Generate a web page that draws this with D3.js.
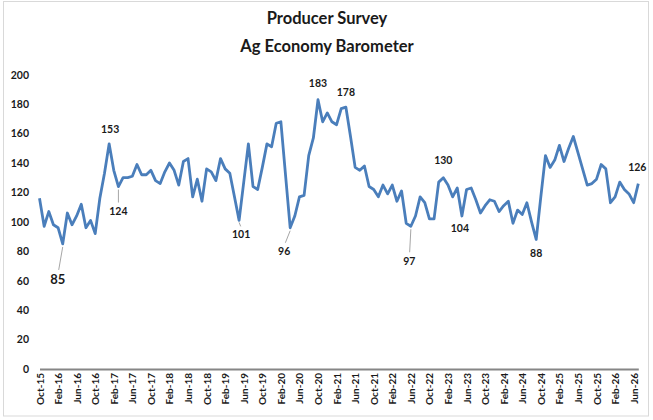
<!DOCTYPE html>
<html>
<head>
<meta charset="utf-8">
<script src="https://cdn.jsdelivr.net/npm/d3@7"></script>
<style>
  html, body { margin: 0; padding: 0; background: #fff; }
  svg text { font-family: "Lato", "Open Sans", sans-serif; font-weight: bold; fill: #1a1a1a; }
</style>
</head>
<body>
<svg id="chart" width="653" height="420"></svg>
<script>
"use strict";

/* monthly barometer readings, Oct-15 onwards */
const barometer = [
  116, 97, 107, 98, 96, 85, 106, 98, 104, 112, 96, 101, 92, 116, 133, 153, 135, 124, 130, 130,
  131, 139, 132, 132, 135, 128, 126, 134, 140, 135, 125, 141, 143, 117, 129, 114, 136, 134, 128, 143,
  136, 133, 117, 101, 127, 153, 124, 122, 137, 153, 151, 167, 168, 132, 96, 104, 117, 118, 145, 157,
  183, 168, 174, 168, 166, 177, 178, 158, 137, 135, 138, 124, 122, 117, 125, 119, 125, 114, 121, 99,
  97, 104, 117, 113, 102, 102, 127, 130, 125, 117, 123, 104, 122, 123, 115, 106, 111, 115, 114, 107,
  111, 114, 99, 108, 105, 113, 100, 88, 117, 145, 137, 142, 152, 141, 150, 158, 147, 136, 125, 126,
  129, 139, 136, 113, 117, 127, 122, 119, 113, 126
];

/* category labels, one every 4 months */
const tickLabels = [
  "Oct-15", "Feb-16", "Jun-16", "Oct-16", "Feb-17", "Jun-17", "Oct-17", "Feb-18", "Jun-18",
  "Oct-18", "Feb-19", "Jun-19", "Oct-19", "Feb-20", "Jun-20", "Oct-20", "Feb-21", "Jun-21",
  "Oct-21", "Feb-22", "Jun-22", "Oct-22", "Feb-23", "Jun-23", "Oct-23", "Feb-24", "Jun-24",
  "Oct-24", "Feb-25", "Jun-25", "Oct-25", "Feb-26", "Jun-26"
];

const yTicks = [0, 20, 40, 60, 80, 100, 120, 140, 160, 180, 200];

/* months that carry a value label */
const labelledMonths = [5, 15, 17, 43, 54, 60, 66, 80, 87, 91, 107, 129];

const titleLines = ["Producer Survey", "Ag Economy Barometer"];

const svg = d3.select("#chart");

const xScale = d3.scaleLinear().domain([0, barometer.length - 1]).range([39.5, 638.3]);
const yScale = d3.scaleLinear().domain([0, 200]).range([369, 74.7]);

/* placement of each value label: offset from the point, and whether it has a leader line */
const labelStyle = {
  5:   { dx: -5,   dy: 36, size: 13, leader: [3, 26] },
  15:  { dx: 1,    dy: -15 },
  17:  { dx: 0,    dy: 25, leader: [3, 16] },
  43:  { dx: 2,    dy: 14, leader: [2, 6] },
  54:  { dx: -6,   dy: 24, leader: [3, 15] },
  60:  { dx: 0,    dy: -16 },
  66:  { dx: 0,    dy: -15 },
  80:  { dx: -1.5, dy: 35, leader: [3, 26] },
  87:  { dx: 0,    dy: -17 },
  91:  { dx: -2,   dy: 12 },
  107: { dx: 0,    dy: 14 },
  129: { dx: -1,   dy: -16 }
};

/* Draw the outer chart frame */
function render_frame() {
  svg.append("rect")
      .attr("x", 3.5).attr("y", 1.5)
      .attr("width", 645).attr("height", 414.5)
      .attr("fill", "none")
      .attr("stroke", "#d9d9d9")
      .attr("stroke-width", 1);
}

/* Title, two centred lines */
function render_title() {
  svg.append("g")
      .selectAll("text")
      .data(titleLines)
      .enter().append("text")
      .attr("x", 327)
      .attr("y", (d, i) => 24 + i * 28)
      .attr("text-anchor", "middle")
      .style("font-size", "16.5px")
      .text(d => d);
}

/* Y axis: labels only, no line or gridlines */
function render_y_axis() {
  let axis = d3.axisLeft(yScale).tickValues(yTicks).tickSize(0).tickPadding(0);
  let g = svg.append("g")
      .attr("transform", "translate(29,0)")
      .call(axis);
  g.select(".domain").remove();
  g.selectAll("text")
      .style("font-size", "10.5px")
      .style("font-family", null)
      .attr("fill", "#1a1a1a");
}

/* X axis: grey baseline with rotated month labels */
function render_x_axis() {
  let tickIdx = tickLabels.map((d, i) => i * 4);
  let axis = d3.axisBottom(xScale)
      .tickValues(tickIdx)
      .tickFormat((d, i) => tickLabels[i])
      .tickSize(0)
      .tickPadding(0);
  let g = svg.append("g")
      .attr("transform", "translate(0," + yScale(0) + ")")
      .call(axis);
  g.select(".domain")
      .attr("stroke", "#868686")
      .attr("stroke-width", 2);
  g.selectAll("text")
      .attr("transform", "translate(0,4) rotate(-90)")
      .attr("y", 0)
      .attr("dy", "0.35em")
      .attr("x", 0)
      .style("text-anchor", "end")
      .style("font-size", "10px")
      .style("font-family", null)
      .attr("fill", "#1a1a1a");
}

/* The barometer series */
function render_line() {
  let line = d3.line()
      .x((d, i) => xScale(i))
      .y(d => yScale(d));
  svg.append("path")
      .datum(barometer)
      .attr("d", line)
      .attr("fill", "none")
      .attr("stroke", "#4a7ebb")
      .attr("stroke-width", 2.8)
      .attr("stroke-linejoin", "round");
}

/* Value labels with optional leader lines */
function render_labels() {
  let g = svg.append("g").attr("class", "valueLabels");
  labelledMonths.forEach(i => {
    let s = labelStyle[i],
        px = xScale(i),
        py = yScale(barometer[i]);
    if (s.leader) {
      let sign = s.dy > 0 ? 1 : -1;
      g.append("line")
          .attr("x1", px).attr("y1", py + sign * s.leader[0])
          .attr("x2", px + s.dx * 0.8).attr("y2", py + sign * s.leader[1])
          .attr("stroke", "#a6a6a6")
          .attr("stroke-width", 1);
    }
    g.append("text")
        .attr("x", px + s.dx)
        .attr("y", py + s.dy)
        .attr("dy", "0.35em")
        .attr("text-anchor", "middle")
        .style("font-size", (s.size || 10.5) + "px")
        .text(barometer[i]);
  });
}

render_frame();
render_title();
render_y_axis();
render_x_axis();
render_line();
render_labels();
</script>
</body>
</html>
